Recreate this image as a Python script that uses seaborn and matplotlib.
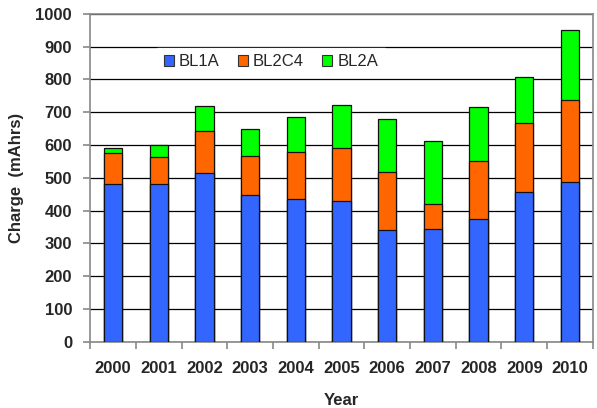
import numpy as np
import pandas as pd
import matplotlib
matplotlib.use('Agg')
import matplotlib.pyplot as plt
import seaborn as sns
from matplotlib.ticker import FixedLocator

years = ['2000', '2001', '2002', '2003', '2004', '2005', '2006', '2007', '2008', '2009', '2010']
bl1a = [481, 481, 516, 449, 437, 430, 340, 344, 375, 456, 486]
bl2c4 = [94, 84, 126, 118, 141, 161, 179, 77, 177, 212, 251]
bl2a = [15, 36, 78, 83, 108, 131, 160, 191, 163, 139, 214]

colors = {'BL1A': '#3366FF', 'BL2C4': '#FF6600', 'BL2A': '#00FF00'}

sns.set_style('white')
plt.rcParams['font.family'] = ['Liberation Sans', 'DejaVu Sans']

df = pd.DataFrame({'Year': years, 'BL1A': bl1a, 'BL2C4': bl2c4, 'BL2A': bl2a})
df['s1'] = df['BL1A']
df['s2'] = df['BL1A'] + df['BL2C4']
df['s3'] = df['s2'] + df['BL2A']

fig = plt.figure(figsize=(5.97, 4.08), dpi=100)
ax = fig.add_axes([0.151, 0.162, 0.842, 0.804])

# stacked bars drawn as overlapping cumulative totals
for col, name in [('s3', 'BL2A'), ('s2', 'BL2C4'), ('s1', 'BL1A')]:
    sns.barplot(data=df, x='Year', y=col, color=colors[name], width=0.4,
                edgecolor='#111111', linewidth=0.9, saturation=1, ax=ax, zorder=3)

ax.set_ylim(0, 1000)
ax.set_xlim(-0.5, 10.5)
ax.set_yticks(np.arange(0, 1001, 100))
ax.yaxis.grid(True, color='black', linewidth=0.9, zorder=0)
ax.set_axisbelow(True)
for s in ax.spines.values():
    s.set_color('#888888')
    s.set_linewidth(1.2)

ax.tick_params(axis='y', which='major', length=5, color='#888888', width=1.2,
               labelsize=12, pad=8, left=True)
ax.tick_params(axis='x', which='major', length=0, labelsize=12, pad=14)
ax.xaxis.set_minor_locator(FixedLocator(np.arange(-0.5, 11, 1)))
ax.tick_params(axis='x', which='minor', length=5, color='#888888', width=1.2, bottom=True)
for lab in ax.get_xticklabels() + ax.get_yticklabels():
    lab.set_fontweight('bold')

ax.set_xlabel('Year', fontsize=12, fontweight='bold', labelpad=12)
ax.set_ylabel('Charge  (mAhrs)', fontsize=12, fontweight='bold', labelpad=8)

handles = [plt.Rectangle((0, 0), 1, 1, facecolor=colors[n], edgecolor='#333333', linewidth=0.8)
           for n in ['BL1A', 'BL2C4', 'BL2A']]
leg = ax.legend(handles, ['BL1A', 'BL2C4', 'BL2A'], ncol=3, loc='center',
                bbox_to_anchor=(0.36, 0.854), frameon=True, fontsize=12,
                handlelength=0.6, handleheight=0.6, handletextpad=0.3,
                columnspacing=1.1, borderpad=0.4, fancybox=False)
leg.get_frame().set_facecolor('white')
leg.get_frame().set_edgecolor('white')
leg.set_zorder(5)

fig.savefig('out.png', dpi=100)
